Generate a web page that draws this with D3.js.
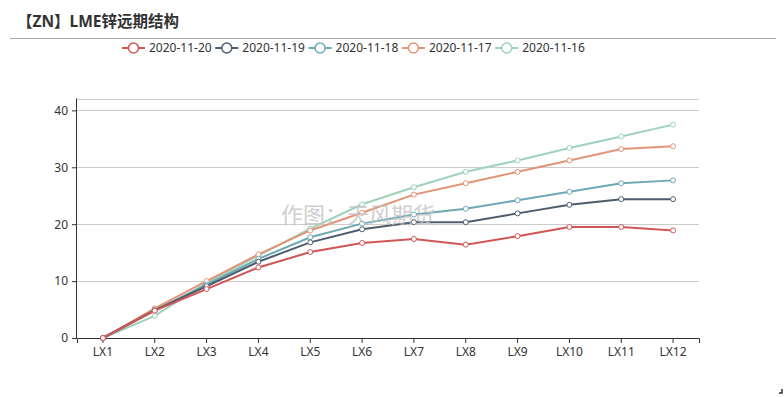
<!DOCTYPE html>
<html>
<head>
<meta charset="utf-8">
<script src="https://cdn.jsdelivr.net/npm/d3@7/dist/d3.min.js"></script>
<style>
  body { margin: 0; background: #fff; }
  svg { font-family: "Noto Sans", "Noto Sans CJK SC", sans-serif; }
</style>
</head>
<body>
<div id="chart"></div>
<script>
const width = 784;
const height = 397;
const margin = { t: 99, r: 85, b: 59, l: 77 };
const font = '"Noto Sans", "Noto Sans CJK SC", sans-serif';

const contracts = ['LX1', 'LX2', 'LX3', 'LX4', 'LX5', 'LX6', 'LX7', 'LX8', 'LX9', 'LX10', 'LX11', 'LX12'];
const dates = ['2020-11-20', '2020-11-19', '2020-11-18', '2020-11-17', '2020-11-16'];
const colors = ['#d15656', '#4e5d6c', '#6ea9b3', '#e29477', '#9fd2bd'];
const yTicks = [0, 10, 20, 30, 40];

const zn1120 = [0, 4.8, 8.6, 12.4, 15.1, 16.7, 17.4, 16.4, 17.9, 19.5, 19.5, 18.9];
const zn1119 = [0, 4.9, 9.1, 13.4, 16.8, 19.1, 20.35, 20.35, 21.9, 23.4, 24.4, 24.4];
const zn1118 = [0, 4.8, 9.4, 13.9, 17.7, 20.1, 21.7, 22.7, 24.2, 25.7, 27.2, 27.7];
const zn1117 = [0, 5.2, 10.0, 14.7, 18.9, 22.0, 25.2, 27.2, 29.2, 31.2, 33.2, 33.7];
const zn1116 = [0, 3.9, 9.7, 14.5, 19.2, 23.5, 26.5, 29.2, 31.2, 33.4, 35.4, 37.5];
const series = [zn1120, zn1119, zn1118, zn1117, zn1116];

const W = width - margin.l - margin.r;
const H = height - margin.t - margin.b;

const svg = d3.select('#chart').append('svg')
  .attr('width', width)
  .attr('height', height);

// title
svg.append('text')
  .attr('x', 17)
  .attr('y', 27)
  .style('font-size', '15.5px')
  .style('font-weight', 'bold')
  .style('fill', '#333')
  .text('【ZN】LME锌远期结构');

svg.append('line')
  .attr('x1', 10).attr('x2', 776)
  .attr('y1', 38.5).attr('y2', 38.5)
  .style('stroke', '#aaa');

// scales
const scaleX = d3.scaleBand().domain(contracts).range([0, W]);
const scaleY = d3.scaleLinear().domain([0, 42]).range([H, 0]);

const g = svg.append('g')
  .attr('transform', `translate(${margin.l}, ${margin.t})`);

// grid
g.selectAll('.grid')
  .data(yTicks.slice(1).concat([42]))
  .enter().append('line')
  .attr('class', 'grid')
  .attr('x1', 0).attr('x2', W)
  .attr('y1', d => Math.round(scaleY(d)) + 0.5)
  .attr('y2', d => Math.round(scaleY(d)) + 0.5)
  .style('stroke', '#ccc');

// watermark
svg.append('text')
  .attr('x', 358)
  .attr('y', 223)
  .attr('text-anchor', 'middle')
  .style('font-size', '22px')
  .style('fill', '#c4c4c4')
  .style('opacity', 0.8)
  .text('作图：天风期货');

// axes
const yAxis = d3.axisLeft(scaleY).tickValues(yTicks).tickSize(5).tickPadding(4);
const xAxis = d3.axisBottom(scaleX).tickSize(5).tickPadding(4);

const gy = g.append('g').call(yAxis);
const gx = g.append('g').attr('transform', `translate(0, ${H})`).call(xAxis);
[gy, gx].forEach(a => {
  a.select('.domain').style('stroke', '#333');
  a.selectAll('.tick line').style('stroke', '#333');
  a.selectAll('.tick text')
    .style('fill', '#333')
    .style('font-size', '12px')
    .style('font-family', font);
});
gy.select('.domain').attr('d', `M-0.5,${H}V-0.5`);

// lines
const line = d3.line()
  .x((d, i) => scaleX(contracts[i]) + scaleX.bandwidth() / 2)
  .y(d => scaleY(d));

series.slice().reverse().forEach((vals, ri) => {
  const i = series.length - 1 - ri;
  g.append('path')
    .datum(vals)
    .attr('d', line)
    .style('fill', 'none')
    .style('stroke', colors[i])
    .style('stroke-width', 2);
  g.selectAll(`.pt${i}`)
    .data(vals)
    .enter().append('circle')
    .attr('class', `pt${i}`)
    .attr('cx', (d, j) => scaleX(contracts[j]) + scaleX.bandwidth() / 2)
    .attr('cy', d => scaleY(d))
    .attr('r', 2.5)
    .style('fill', '#fff')
    .style('stroke', colors[i])
    .style('stroke-width', 1);
});

// legend
const legend = svg.append('g').attr('transform', 'translate(122, 48)');
const itemW = 93.3;
dates.forEach((d, i) => {
  const it = legend.append('g').attr('transform', `translate(${i * itemW}, 0)`);
  it.append('line')
    .attr('x1', 0).attr('x2', 23)
    .style('stroke', colors[i])
    .style('stroke-width', 2);
  it.append('circle')
    .attr('cx', 11.5).attr('cy', 0).attr('r', 5)
    .style('fill', '#fff')
    .style('stroke', colors[i])
    .style('stroke-width', 1.5);
  it.append('text')
    .attr('x', 27)
    .attr('dy', '0.35em')
    .style('font-size', '12px')
    .style('fill', '#333')
    .text(d);
});

// corner mark
svg.append('path')
  .attr('d', 'M779,393H782V389')
  .style('fill', 'none')
  .style('stroke', '#333')
  .style('stroke-width', 1.5);
</script>
</body>
</html>
